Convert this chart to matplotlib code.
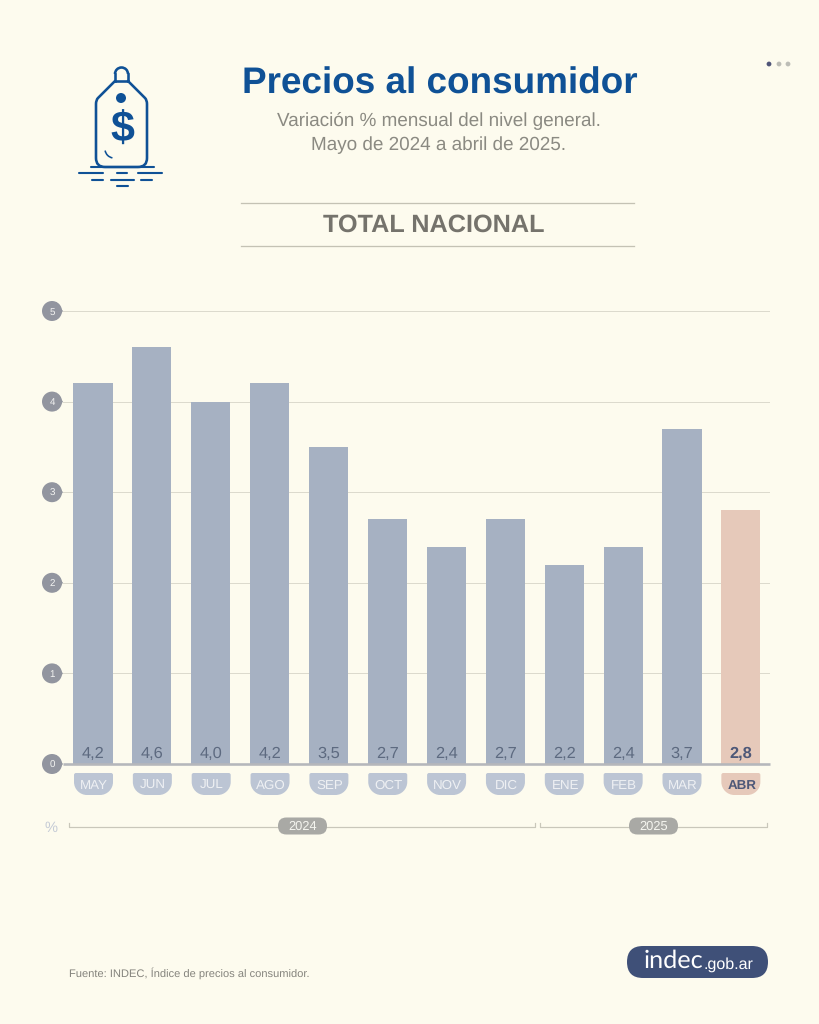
import matplotlib
matplotlib.use("Agg")
import matplotlib.pyplot as plt
from matplotlib.path import Path
from matplotlib.patches import PathPatch, Circle, FancyBboxPatch, Arc, Polygon
from matplotlib.transforms import ScaledTranslation

months = ["MAY", "JUN", "JUL", "AGO", "SEP", "OCT", "NOV", "DIC", "ENE", "FEB", "MAR", "ABR"]
values = [4.2, 4.6, 4.0, 4.2, 3.5, 2.7, 2.4, 2.7, 2.2, 2.4, 3.7, 2.8]
value_labels = ["4,2", "4,6", "4,0", "4,2", "3,5", "2,7", "2,4", "2,7", "2,2", "2,4", "3,7", "2,8"]
y_ticks = [0, 1, 2, 3, 4, 5]

BG = "#fdfbee"
BAR = "#a6b1c2"
HI = "#e6c9ba"
BLUE = "#0f5196"
FONT = "Liberation Sans"
W, H = 819, 1024
PT = 0.72  # points per pixel at dpi 100

plt.rcParams["font.family"] = [FONT, "DejaVu Sans"]
plt.rcParams["text.hinting"] = "none"
fig = plt.figure(figsize=(W / 100, H / 100), dpi=100, facecolor=BG)

# overlay in pixel coordinates for decoration
ov = fig.add_axes([0, 0, 1, 1], zorder=3)
ov.set_xlim(0, W)
ov.set_ylim(H, 0)
ov.axis("off")
ov.patch.set_alpha(0)

# chart axes
ax = fig.add_axes([63 / W, 1 - 764 / H, (770 - 63) / W, (764 - 311) / H], zorder=2)
ax.patch.set_alpha(0)
ax.set_xlim(-0.509, 11.494)
ax.set_ylim(0, 5)
colors = [BAR] * 11 + [HI]
ax.bar(range(12), values, width=0.665, color=colors, zorder=2)
ax.set_yticks(y_ticks)
ax.set_yticklabels([str(v) for v in y_ticks], color="#f4f4f2", fontsize=7, ha="center")
ax.tick_params(axis="y", length=0, pad=11 * PT)
ax.set_xticks(range(12))
ax.set_xticklabels(months, fontsize=9.6, color="#eef0f3", va="baseline")
ax.tick_params(axis="x", length=0, pad=25 * PT)
ax.get_xticklabels()[-1].set_color("#4e5878")
ax.get_xticklabels()[-1].set_fontweight("bold")
shift = ScaledTranslation(1.2 / 100, 0, fig.dpi_scale_trans)
for lab in ax.get_xticklabels():
    lab.set_zorder(6)
    lab.set_transform(lab.get_transform() + shift)
ax.grid(axis="y", color="#dcdacd", lw=1 * PT, zorder=1)
ax.set_axisbelow(True)
for s in ["top", "left", "right"]:
    ax.spines[s].set_visible(False)
ax.spines["bottom"].set_color("#b5b7bb")
ax.spines["bottom"].set_linewidth(2.6 * PT)
ax.spines["bottom"].set_capstyle("butt")
ax.spines["bottom"].set_zorder(5)
for i, lab in enumerate(value_labels):
    ax.annotate(lab, (i, 0), xytext=(0, 10.5 * PT), textcoords="offset points", ha="center", va="center",
                fontsize=11.8, color="#4e5878" if i == 11 else "#5d6a80",
                fontweight="bold" if i == 11 else "normal", zorder=6)

# month tabs, behind the axes tick labels
ov2 = fig.add_axes([0, 0, 1, 1], zorder=1)
ov2.set_xlim(0, W)
ov2.set_ylim(H, 0)
ov2.axis("off")


def tab(cx, color):
    l, r, t, b = cx - 19.5, cx + 19.5, 773, 795
    rb, rt = 13, 2
    k = 0.55
    verts = [(l, t + rt), (l, t), (l + rt, t), (r - rt, t), (r, t), (r, t + rt), (r, b - rb),
             (r, b - rb + k * rb), (r - rb + k * rb, b), (r - rb, b),
             (l + rb, b), (l + rb - k * rb, b), (l, b - rb + k * rb), (l, b - rb), (l, t + rt)]
    codes = [Path.MOVETO, Path.CURVE3, Path.CURVE3, Path.LINETO, Path.CURVE3, Path.CURVE3, Path.LINETO,
             Path.CURVE4, Path.CURVE4, Path.CURVE4, Path.LINETO, Path.CURVE4, Path.CURVE4, Path.CURVE4, Path.CLOSEPOLY]
    ov2.add_patch(PathPatch(Path(verts, codes), fc=color, ec="none"))


for i in range(12):
    cx = 93.5 + 58.85 * i
    tab(cx, HI if i == 11 else "#bcc5d4")

# y tick teardrops
for v in y_ticks:
    y = 764 - v * 90.6
    ov2.add_patch(Circle((52, y), 10, fc="#92959f", ec="none"))
    ov2.add_patch(Polygon([(56, y - 9.2), (63, y), (56, y + 9.2)], closed=True, fc="#92959f", ec="none"))

# header
ov.text(440, 84, "Precios al consumidor", fontsize=26.6, fontweight="bold", color=BLUE, ha="center", va="center")
ov.text(439, 121.5, "Variación % mensual del nivel general.", fontsize=13.6, color="#8b8a82", ha="center", va="center")
ov.text(439, 145.5, "Mayo de 2024 a abril de 2025.", fontsize=13.6, color="#8b8a82", ha="center", va="center")
ov.plot([241, 634], [203, 203], color="#c4c2b4", lw=1.3 * PT)
ov.plot([241, 634], [246, 246], color="#c4c2b4", lw=1.3 * PT)
ov.text(434, 225, "TOTAL NACIONAL", fontsize=18.2, fontweight="bold", color="#75736c", ha="center", va="center")

# dots
for x, c in [(769, "#4f5578"), (779, "#bdbdb6"), (788, "#bdbdb6")]:
    ov.add_patch(Circle((x, 64), 2.4, fc=c, ec="none"))

# tag icon
lw = 2.6 * PT
L, R, B = 96, 147, 167
verts = [(115, 81), (98, 98), (L, 100), (L, 104), (L, B - 9), (L, B), (L + 9, B), (R - 9, B), (R, B), (R, B - 9), (R, 104), (R, 100), (145, 98), (128, 81)]
codes = [Path.MOVETO, Path.LINETO, Path.CURVE3, Path.CURVE3, Path.LINETO, Path.CURVE3, Path.CURVE3, Path.LINETO, Path.CURVE3, Path.CURVE3,
         Path.LINETO, Path.CURVE3, Path.CURVE3, Path.LINETO]
ov.add_patch(PathPatch(Path(verts, codes), fc="none", ec=BLUE, lw=lw, capstyle="round", joinstyle="round"))
ov.plot([115, 115], [81, 74], color=BLUE, lw=lw)
ov.plot([128, 128], [81, 74], color=BLUE, lw=lw)
ov.add_patch(Arc((121.5, 74), 13, 13, theta1=180, theta2=360, ec=BLUE, lw=lw))
ov.plot([115, 128], [81, 81], color=BLUE, lw=lw)
ov.add_patch(Circle((121, 98), 5, fc=BLUE, ec="none"))
ov.text(122, 131, "$", fontsize=31, fontweight="bold", color=BLUE, ha="center", va="center")
ov.add_patch(Arc((114, 149), 18, 18, theta1=100, theta2=170, ec=BLUE, lw=1.6 * PT))
for y, segs in [(167, [(91, 154)]), (173, [(79, 103), (117, 127), (138, 162)]),
                (180, [(92, 103), (111, 134), (141, 152)]), (186, [(117, 128)])]:
    for a, b in segs:
        ov.plot([a, b], [y, y], color=BLUE, lw=2.1 * PT, solid_capstyle="round")

# year brackets
YC = "#c9c7ba"
ov.text(51, 828, "%", fontsize=10.5, color="#c5cbd6", ha="center", va="center")
for a, b, cx, yr in [(69, 535, 302.5, "2024"), (540, 767, 653.5, "2025")]:
    ov.plot([a, a, b, b], [822.5, 827, 827, 822.5], color=YC, lw=1.2 * PT)
    ov.add_patch(FancyBboxPatch((cx - 24.5 + 8, 817.5 + 8), 49 - 16, 17 - 16, boxstyle="round,pad=8,rounding_size=8.4",
                                fc="#a9a9a5", ec="none", zorder=4))
    ov.text(cx, 826.5, yr, fontsize=9.3, color="#f5f5ef", ha="center", va="center", zorder=5)

# footer
ov.text(69, 973.5, "Fuente: INDEC, Índice de precios al consumidor.", fontsize=8, color="#85847d", ha="left", va="center")
ov.add_patch(FancyBboxPatch((627 + 16, 946 + 16), 141 - 32, 0, boxstyle="round,pad=16,rounding_size=16", fc="#3f5078", ec="none"))
ov.text(643.5, 961, "indec", fontsize=18.2, color="white", ha="left", va="center", family=["Lato", "DejaVu Sans"])
ov.text(704, 965, ".gob.ar", fontsize=11.5, color="white", ha="left", va="center")

fig.savefig("out.png", dpi=100, facecolor=BG)
